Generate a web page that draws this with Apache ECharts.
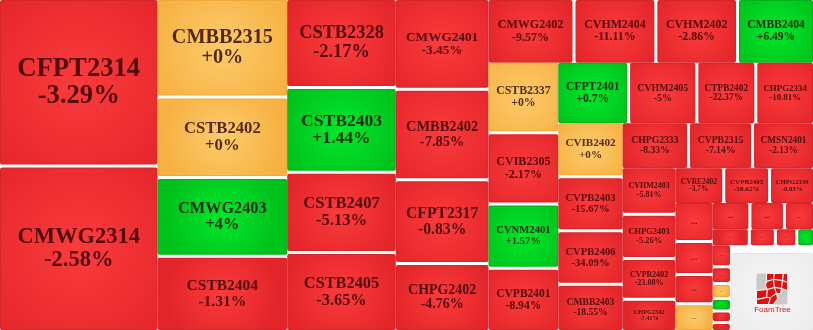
<!DOCTYPE html>
<html>
<head>
<meta charset="utf-8">
<script src="https://cdn.jsdelivr.net/npm/echarts@6/dist/echarts.min.js"></script>
<style>
html,body{margin:0;padding:0;background:#fff;}
#main{width:813px;height:330px;}
</style>
</head>
<body>
<div id="main"></div>
<script>
// ---- data ----
const names = ['CFPT2314','CMWG2314','CMBB2315','CSTB2402','CMWG2403','CSTB2404','CSTB2328','CSTB2403','CSTB2407','CSTB2405',
  'CMWG2401','CMBB2402','CFPT2317','CHPG2402','CMWG2402','CVHM2404','CVHM2402','CMBB2404','CSTB2337','CVIB2305',
  'CVNM2401','CVPB2401','CFPT2401','CVHM2405','CTPB2402','CHPG2334','CVIB2402','CVPB2403','CVPB2406','CMBB2403',
  'CHPG2333','CVPB2315','CMSN2401','CVHM2403','CHPG2403','CVPB2402','CHPG2342','CVRE2402','CVPB2405','CHPG2339'];
const changes = [-3.29,-2.58,0,0,4,-1.31,-2.17,1.44,-5.13,-3.65,
  -3.45,-7.85,-0.83,-4.76,-9.57,-11.11,-2.86,6.49,0,-2.17,
  1.57,-8.94,0.7,-5,-22.37,-10.81,0,-15.67,-34.09,-18.55,
  -8.33,-7.14,-2.13,-5.81,-5.26,-23.08,-7.41,-3.7,-58.62,-0.83];
const volumes = [26145,25830,12671,10350,10117,9663,9589,9122,8623,8503,
  8343,8315,7694,6239,5405,5085,5072,4784,4942,4921,
  4432,4363,4303,4084,3533,3515,3490,3433,3381,3007,
  2984,2835,2745,2455,2297,2112,1674,1690,1555,1527];
// small cells whose labels are collapsed to "..." (only the colour trend is readable)
const hiddenTrend = [-1,-1,-1,0,-1,-1,-1,-1,-1,-1,1,-1,-1,0,1,-1,-1];
const hiddenVolumes = [1451,1198,1064,1012,985,878,765,596,407,335,277,384,277,251,211,192,150];
// area hidden under the FoamTree logo
const coveredVolume = 7029;
// how consecutive cells are grouped into the layout's strips
const stripSizes = [2,4,4,4,4,4,4,4,3,4,3,4,3,4,6,1];

// ---- build ----
const cells = [];
names.forEach((n, i) => cells.push({name: n, value: volumes[i], change: changes[i], trend: Math.sign(changes[i])}));
hiddenVolumes.forEach((v, i) => cells.push({name: '', value: v, change: null, trend: hiddenTrend[i]}));
cells.push({name: '', value: coveredVolume, covered: true});

const PAL = {
  '-1': {c0: '#fb3b3c', c1: '#e2252a', border: '#d8252a'},
  '0':  {c0: '#fdcb6c', c1: '#f6b142', border: '#f0a93a'},
  '1':  {c0: '#00e82b', c1: '#00c01b', border: '#06b01d'}
};
function fmt(v) { return (v >= 0 ? '+' : '') + v + '%'; }

const mctx = document.createElement('canvas').getContext('2d');
mctx.font = 'bold 100px "Liberation Serif"';
function em(s) { return mctx.measureText(s).width / 100; }

function leaf(c, idx, sizes) {
  if (c.covered) {
    return {name: '', value: c.value, cellIndex: idx, silent: true, labelText: '',
      itemStyle: {color: 'rgba(0,0,0,0)', borderColor: 'rgba(0,0,0,0)', borderWidth: 0},
      label: {show: false}};
  }
  const p = PAL[String(c.trend)];
  const fs = sizes ? sizes[idx] : 10;
  return {
    name: c.name || '...', value: c.value, cellIndex: idx,
    labelText: c.name ? c.name + '\n' + fmt(c.change) : '...',
    itemStyle: {
      color: new echarts.graphic.RadialGradient(0.5, 0.5, 0.8, [
        {offset: 0, color: p.c0}, {offset: 1, color: p.c1}]),
      borderColor: p.border, borderWidth: 1, borderRadius: 2
    },
    label: {fontSize: fs, lineHeight: Math.round(fs * 1.02 * 10) / 10,
      color: c.name ? 'rgba(40,0,0,0.8)' : 'rgba(60,20,20,0.75)'}
  };
}

function buildData(sizes) {
  let k = 0;
  return stripSizes.map((n, s) => {
    const children = [];
    for (let j = 0; j < n; j++, k++) children.push(leaf(cells[k], k, sizes));
    return {name: 'strip' + s, children};
  });
}

function makeOption(sizes) {
  return {
    animation: false,
    series: [{
      type: 'treemap',
      left: 0, top: 0, width: '100%', height: '100%',
      roam: false, nodeClick: false,
      breadcrumb: {show: false},
      sort: false,
      squareRatio: 1e-6,
      visibleMin: 0,
      emphasis: {disabled: true},
      label: {
        show: true, position: 'inside', padding: 0, overflow: 'none',
        fontFamily: '"Liberation Serif", "Times New Roman", serif',
        fontWeight: 'bold',
        formatter: p => (p.data && p.data.labelText) || ''
      },
      upperLabel: {show: false},
      levels: [
        {itemStyle: {borderWidth: 0, gapWidth: 0, borderColor: '#fff'}},
        {itemStyle: {borderWidth: 0, gapWidth: 3, borderColor: '#fff'}},
        {itemStyle: {borderWidth: 1, borderRadius: 2}}
      ],
      data: buildData(sizes)
    }],
    graphic: [{
      type: 'group', left: 731, top: 253, silent: true, z: 100, zlevel: 0,
      children: [
        {type: 'rect', z: 100, shape: {x: 0, y: 0, width: 82, height: 77, r: 3},
          style: {fill: new echarts.graphic.RadialGradient(0.5, 0.5, 0.8, [
            {offset: 0, color: '#f6f6f6'}, {offset: 1, color: '#ebebeb'}]), stroke: '#e3e3e3', lineWidth: 1}},
        {type: 'group', x: 25, y: 20, z: 101, children: [
          {type: 'rect', z: 101, shape: {x: 0, y: 0, width: 31, height: 31, r: 3}, style: {fill: '#c9c9c9'}},
          ...[
            [[10,0],[18,0],[17,6],[10,8]],
            [[18,0],[27,0],[26,7],[17,6]],
            [[27,0],[31,0],[31,9],[26,7]],
            [[10,8],[17,6],[18,14],[11,16],[9,12]],
            [[17,6],[26,7],[25,15],[18,14]],
            [[26,7],[31,9],[31,17],[25,15]],
            [[0,17],[11,16],[10,24],[0,26]],
            [[11,16],[18,14],[20,20],[14,24],[10,24]],
            [[18,14],[25,15],[24,20],[20,20]],
            [[0,26],[10,24],[14,24],[12,31],[0,31]],
            [[14,24],[20,20],[21,25],[17,31],[12,31]]
          ].map(pts => ({type: 'polygon', z: 102, shape: {points: pts},
            style: {fill: '#e0100f', stroke: '#fff', lineWidth: 1}}))
        ]},
        {type: 'text', x: 41, y: 52, z: 102,
          style: {text: 'FoamTree', fill: '#d4151a', font: '8px "Liberation Sans", Arial, sans-serif',
            align: 'center', verticalAlign: 'top'}}
      ]
    }]
  };
}

const chart = echarts.init(document.getElementById('main'), null, {renderer: 'canvas'});
chart.setOption(makeOption(null));

function fitSizes() {
  const layouts = {};
  try {
    const data = chart.getModel().getSeriesByIndex(0).getData();
    data.tree.eachNode(node => {
      if (node.children && node.children.length) return;
      const raw = data.getRawDataItem(node.dataIndex);
      const l = node.getLayout();
      if (raw && raw.cellIndex != null && l) layouts[raw.cellIndex] = l;
    });
  } catch (e) {}
  const sizes = {};
  cells.forEach((c, i) => {
    const l = layouts[i];
    const w = l ? l.width : Math.sqrt(c.value) * 1.1;
    const h = l ? l.height : Math.sqrt(c.value) * 0.9;
    if (c.name) {
      const e = Math.max(em(c.name), em(fmt(c.change)));
      sizes[i] = Math.max(4, Math.min(0.78 * w / e, 0.215 * h));
    } else {
      sizes[i] = Math.max(3.5, Math.min(9, h * 0.28, w * 0.24));
    }
  });
  return sizes;
}
chart.setOption(makeOption(fitSizes()), true);
</script>
</body>
</html>
